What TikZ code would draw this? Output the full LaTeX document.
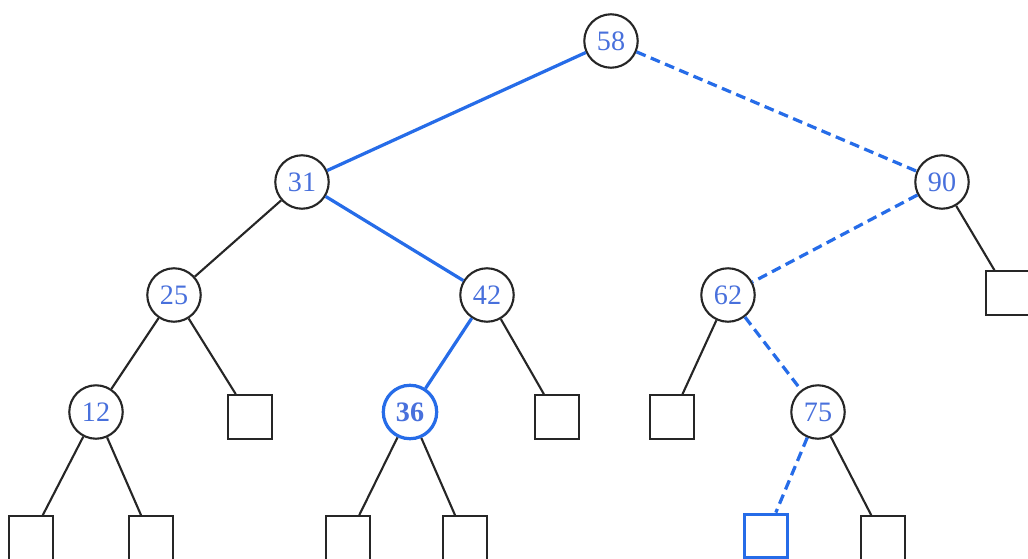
\documentclass[tikz,border=0pt]{standalone}
\usepackage{fontspec}
\setmainfont{Liberation Serif}
\definecolor{keyblue}{RGB}{72,112,220}
\definecolor{pathblue}{RGB}{38,108,232}
\begin{document}
\begin{tikzpicture}[x=0.025cm, y=-0.025cm,
    key/.style={circle, draw=black!85, line width=1.5pt, fill=white, minimum size=38pt,
        inner sep=0pt, text=keyblue, font=\fontsize{20}{20}\selectfont},
    found/.style={key, draw=pathblue, line width=2.3pt, font=\fontsize{20}{20}\selectfont\bfseries},
    leaf/.style={rectangle, draw=black!85, line width=1.5pt, fill=white, minimum size=31pt, inner sep=0pt},
    newleaf/.style={leaf, draw=pathblue, line width=2.3pt},
    edge/.style={black!85, line width=1.5pt},
    hit/.style={pathblue, line width=2.3pt},
    miss/.style={pathblue, line width=2.3pt, dash pattern=on 7pt off 4pt}]
    \useasboundingbox (0,0) rectangle (1028,559);
    
    % Khóa bên trong
    \node[key] (n58) at (611,41) {58};
    \node[key] (n31) at (302,182) {31};
    \node[key] (n90) at (942,182) {90};
    \node[key] (n25) at (174,295) {25};
    \node[key] (n42) at (487,295) {42};
    \node[key] (n62) at (728,295) {62};
    \node[key] (n12) at (96,412) {12};
    \node[found] (n36) at (410,412) {36};
    \node[key] (n75) at (818,412) {75};
    
    % Lá
    \node[leaf] (l90) at (1008,293) {};
    \node[leaf] (l25) at (250,417) {};
    \node[leaf] (l42) at (557,417) {};
    \node[leaf] (l62) at (672,417) {};
    \node[leaf] (l12a) at (31,538) {};
    \node[leaf] (l12b) at (151,538) {};
    \node[leaf] (l36a) at (348,538) {};
    \node[leaf] (l36b) at (465,538) {};
    \node[newleaf] (l75a) at (766,536) {};
    \node[leaf] (l75b) at (883,538) {};
    
    % Cạnh
    \draw[hit] (n58) -- (n31);
    \draw[miss] (n58) -- (n90);
    \draw[edge] (n31) -- (n25);
    \draw[hit] (n31) -- (n42);
    \draw[miss] (n90) -- (n62);
    \draw[edge] (n90) -- (l90);
    \draw[edge] (n25) -- (n12);
    \draw[edge] (n25) -- (l25);
    \draw[hit] (n42) -- (n36);
    \draw[edge] (n42) -- (l42);
    \draw[edge] (n62) -- (l62);
    \draw[miss] (n62) -- (n75);
    \draw[edge] (n12) -- (l12a);
    \draw[edge] (n12) -- (l12b);
    \draw[edge] (n36) -- (l36a);
    \draw[edge] (n36) -- (l36b);
    \draw[miss] (n75) -- (l75a);
    \draw[edge] (n75) -- (l75b);
\end{tikzpicture}
\end{document}
